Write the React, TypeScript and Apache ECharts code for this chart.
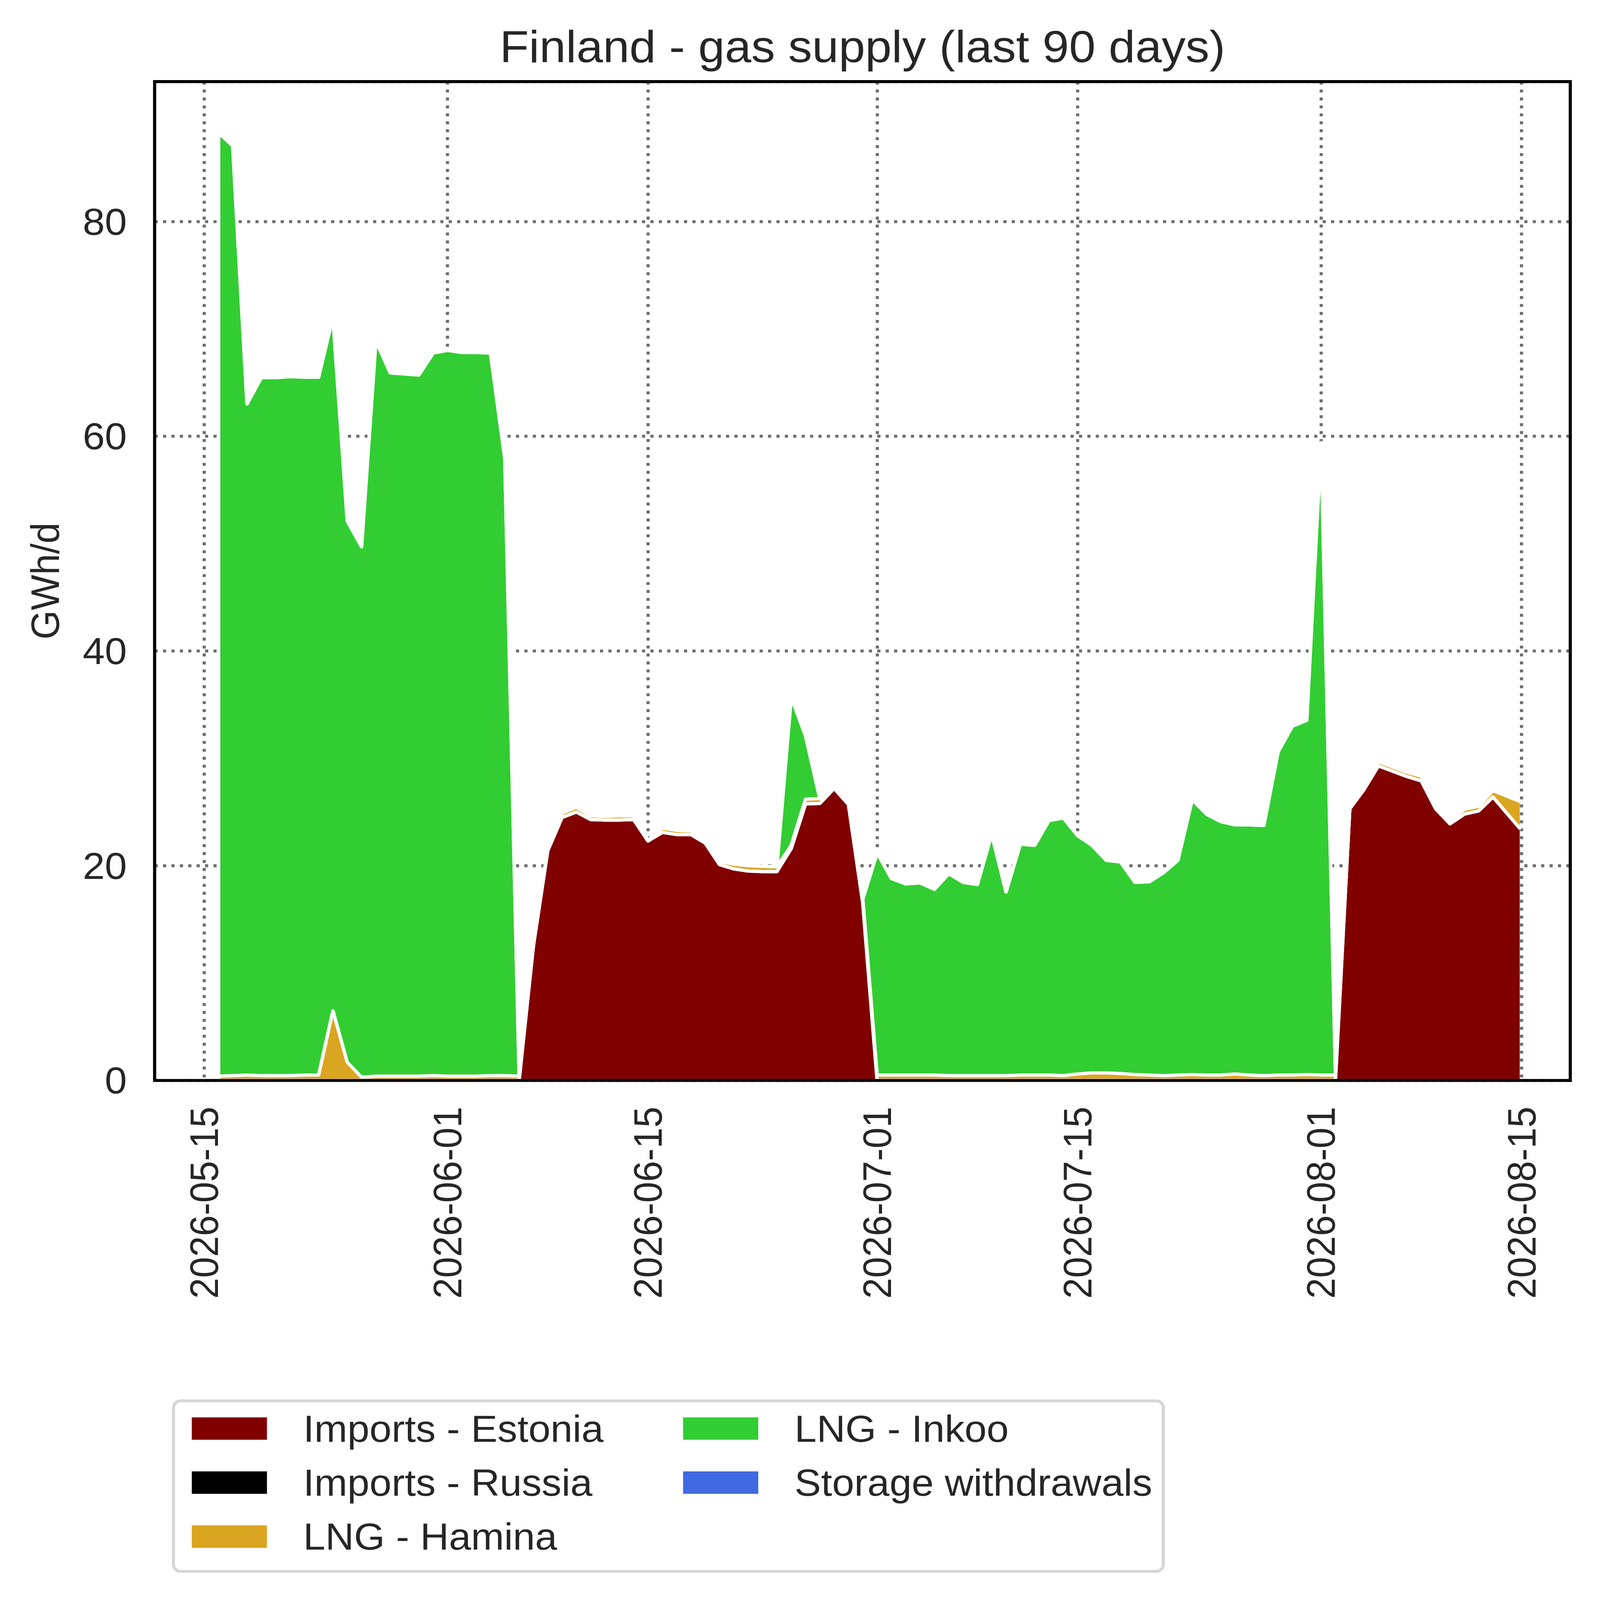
import React, { useEffect, useRef } from "react";
import * as echarts from "echarts";

// ---------- data ----------
const dates: string[] = [
  "2026-05-16T03:20:00Z",
  "2026-05-17", "2026-05-18", "2026-05-19", "2026-05-20", "2026-05-21", "2026-05-22", "2026-05-23",
  "2026-05-24", "2026-05-25", "2026-05-26", "2026-05-27", "2026-05-28", "2026-05-29", "2026-05-30", "2026-05-31",
  "2026-06-01", "2026-06-02", "2026-06-03", "2026-06-04", "2026-06-05", "2026-06-06", "2026-06-07", "2026-06-08",
  "2026-06-09", "2026-06-10", "2026-06-11", "2026-06-12", "2026-06-13", "2026-06-14", "2026-06-15", "2026-06-16",
  "2026-06-17", "2026-06-18", "2026-06-19", "2026-06-20", "2026-06-21", "2026-06-22", "2026-06-23", "2026-06-24",
  "2026-06-25", "2026-06-26", "2026-06-27", "2026-06-28", "2026-06-29", "2026-06-30",
  "2026-07-01", "2026-07-02", "2026-07-03", "2026-07-04", "2026-07-05", "2026-07-06", "2026-07-07", "2026-07-08",
  "2026-07-09", "2026-07-10", "2026-07-11", "2026-07-12", "2026-07-13", "2026-07-14", "2026-07-15", "2026-07-16",
  "2026-07-17", "2026-07-18", "2026-07-19", "2026-07-20", "2026-07-21", "2026-07-22", "2026-07-23", "2026-07-24",
  "2026-07-25", "2026-07-26", "2026-07-27", "2026-07-28", "2026-07-29", "2026-07-30", "2026-07-31",
  "2026-08-01", "2026-08-02", "2026-08-03", "2026-08-04", "2026-08-05", "2026-08-06", "2026-08-07", "2026-08-08",
  "2026-08-09", "2026-08-10", "2026-08-11", "2026-08-12", "2026-08-13",
  "2026-08-14T20:40:00Z",
];

const importsEstonia: number[] = [
  0, 0, 0, 0, 0, 0, 0, 0, 0, 0,
  0, 0, 0, 0, 0, 0, 0, 0, 0, 0,
  0, 0, 12.6, 21.4, 24.5, 25.0, 24.3, 24.25, 24.25, 24.3,
  22.3, 23.1, 22.9, 22.9, 22.1, 20.1, 19.7, 19.5, 19.45, 19.45,
  21.6, 25.75, 25.8, 27.2, 25.7, 16.5, 0, 0, 0, 0,
  0, 0, 0, 0, 0, 0, 0, 0, 0, 0,
  0, 0, 0, 0, 0, 0, 0, 0, 0, 0,
  0, 0, 0, 0, 0, 0, 0, 0, 0, 25.3,
  27.1, 29.3, 28.8, 28.3, 27.9, 25.3, 23.9, 24.8, 25.1, 26.4,
  23.5,
];

const importsRussia: number[] = [
  0, 0, 0, 0, 0, 0, 0, 0, 0, 0,
  0, 0, 0, 0, 0, 0, 0, 0, 0, 0,
  0, 0, 0, 0, 0, 0, 0, 0, 0, 0,
  0, 0, 0, 0, 0, 0, 0, 0, 0, 0,
  0, 0, 0, 0, 0, 0, 0, 0, 0, 0,
  0, 0, 0, 0, 0, 0, 0, 0, 0, 0,
  0, 0, 0, 0, 0, 0, 0, 0, 0, 0,
  0, 0, 0, 0, 0, 0, 0, 0, 0, 0,
  0, 0, 0, 0, 0, 0, 0, 0, 0, 0,
  0,
];

const lngHamina: number[] = [
  0.4, 0.45, 0.5, 0.45, 0.45, 0.45, 0.5, 0.5, 6.5, 1.7,
  0.3, 0.4, 0.4, 0.4, 0.4, 0.45, 0.4, 0.4, 0.4, 0.45,
  0.45, 0.4, 0, 0.1, 0.4, 0.45, 0.35, 0.35, 0.4, 0.35,
  0.05, 0.4, 0.4, 0.35, 0.1, 0.3, 0.45, 0.5, 0.5, 0.45,
  0.3, 0.45, 0.45, 0.15, 0.05, 0.4, 0.5, 0.5, 0.5, 0.5,
  0.5, 0.45, 0.45, 0.45, 0.45, 0.45, 0.5, 0.5, 0.5, 0.45,
  0.6, 0.7, 0.7, 0.65, 0.55, 0.5, 0.45, 0.5, 0.55, 0.5,
  0.5, 0.6, 0.5, 0.45, 0.5, 0.5, 0.55, 0.5, 0.5, 0.05,
  0.1, 0.4, 0.4, 0.4, 0.45, 0.1, 0.3, 0.45, 0.45, 0.6,
  2.5,
];

const lngInkoo: number[] = [
  87.7, 86.6, 62.5, 65.0, 65.0, 65.1, 65.0, 65.0, 64.6, 50.4,
  49.4, 68.5, 65.5, 65.4, 65.3, 67.3, 67.6, 67.4, 67.4, 67.3,
  57.5, 0, 0, 0, 0, 0, 0, 0, 0, 0,
  0, 0, 0, 0, 0, 0, 0, 0, 0, 0,
  13.8, 5.9, 0, 0, 0, 0, 20.7, 18.3, 17.8, 17.9,
  17.3, 18.8, 18.0, 17.8, 22.5, 17.1, 21.5, 21.4, 23.7, 24.0,
  22.2, 21.2, 19.8, 19.7, 17.9, 18.0, 18.9, 20.0, 25.6, 24.3,
  23.6, 23.2, 23.3, 23.3, 30.1, 32.5, 33.0, 58.9, 0.2, 0,
  0, 0, 0, 0, 0, 0, 0, 0, 0, 0,
  0,
];

const storageWithdrawals: number[] = [
  0, 0, 0, 0, 0, 0, 0, 0, 0, 0,
  0, 0, 0, 0, 0, 0, 0, 0, 0, 0,
  0, 0, 0, 0, 0, 0, 0, 0, 0, 0,
  0, 0, 0, 0, 0, 0, 0, 0, 0, 0,
  0, 0, 0, 0, 0, 0, 0, 0, 0, 0,
  0, 0, 0, 0, 0, 0, 0, 0, 0, 0,
  0, 0, 0, 0, 0, 0, 0, 0, 0, 0,
  0, 0, 0, 0, 0, 0, 0, 0, 0, 0,
  0, 0, 0, 0, 0, 0, 0, 0, 0, 0,
  0,
];

const seriesNames: string[] = [
  "Imports - Estonia",
  "Imports - Russia",
  "LNG - Hamina",
  "LNG - Inkoo",
  "Storage withdrawals",
];
const seriesColors: string[] = ["#800000", "#000000", "#daa520", "#32cd32", "#4169e1"];

const xTickLabels: string[] = [
  "2026-05-15", "2026-06-01", "2026-06-15", "2026-07-01", "2026-07-15", "2026-08-01", "2026-08-15",
];
const yTickLabels: number[] = [0, 20, 40, 60, 80];

const titleText = "Finland - gas supply (last 90 days)";
const yAxisTitle = "GWh/d";

// ---------- layout ----------
const W = 5598;
const H = 5922;
const FONT = "'Liberation Sans', Arial, Helvetica, sans-serif";
const TEXT = "#262626";
const GRID = { left: 541, top: 302, width: 4953, height: 3697 };
const DAY = 86400000;

export default function App() {
  const ref = useRef<HTMLDivElement>(null);
  const vw = typeof window !== "undefined" && window.innerWidth ? window.innerWidth : W;
  const vh = typeof window !== "undefined" && window.innerHeight ? window.innerHeight : H;
  const sx = Math.min(1, vw / W);
  const sy = Math.min(1, vh / H);

  useEffect(() => {
    if (!ref.current) return;
    document.body.style.margin = "0";
    document.body.style.overflow = "hidden";
    const chart = echarts.init(ref.current, null, { renderer: "svg", width: W, height: H });

    const values = [importsEstonia, importsRussia, lngHamina, lngInkoo, storageWithdrawals];
    const times = dates.map((d) => Date.parse(d));
    const tickVals = xTickLabels.map((s) => Date.parse(s));
    const origin = tickVals[0];
    const xMin = origin - 3.45 * DAY;
    const xMax = origin + 95.4 * DAY;

    // cumulative (stacked) levels, bottom layer first
    const levels: number[][] = [];
    values.forEach((arr, k) => {
      levels.push(arr.map((v, i) => v + (k > 0 ? levels[k - 1][i] : 0)));
    });

    const dotted = { color: "#6e6e6e", width: 11, type: [11, 18.4] as number[] };

    // areas painted from the top layer down, each filled from the axis
    const areaSeries = [4, 3, 2, 1, 0].map((k) => ({
      name: seriesNames[k],
      type: "line",
      symbol: "none",
      showSymbol: false,
      silent: true,
      data: times.map((t, i) => [t, levels[k][i]]),
      lineStyle: { width: 0, opacity: 0 },
      areaStyle: { color: seriesColors[k], opacity: 1, origin: "start" },
      itemStyle: { color: seriesColors[k], borderWidth: 0 },
      z: 2,
    }));

    const edgeSeries = levels.map((lv, k) => ({
      name: "edge-" + k,
      type: "line",
      symbol: "none",
      showSymbol: false,
      silent: true,
      data: times.map((t, i) => [t, lv[i]]),
      lineStyle: { color: "#ffffff", width: 12, join: "round", cap: "round" },
      itemStyle: { color: "#ffffff" },
      z: 3,
    }));

    const legendCommon = {
      orient: "vertical",
      top: 5218,
      padding: 0,
      itemWidth: 263,
      itemHeight: 83,
      itemGap: 61,
      icon: "rect",
      selectedMode: false,
      itemStyle: { borderWidth: 0 },
      textStyle: {
        fontSize: 139,
        fontFamily: FONT,
        color: TEXT,
        lineHeight: 139,
        padding: [0, 0, 0, 122],
      },
    };

    chart.setOption({
      animation: false,
      backgroundColor: "#ffffff",
      grid: { left: GRID.left, top: GRID.top, width: GRID.width, height: GRID.height },
      xAxis: {
        type: "value",
        min: xMin,
        max: xMax,
        scale: true,
        axisLine: { show: false },
        axisTick: { show: false, customValues: tickVals },
        axisLabel: {
          customValues: tickVals,
          rotate: 90,
          margin: 97,
          fontSize: 139,
          fontFamily: FONT,
          color: TEXT,
          hideOverlap: false,
          formatter: (v: number) => {
            const k = tickVals.indexOf(v);
            return k >= 0 ? xTickLabels[k] : "";
          },
        },
        splitLine: { show: true, lineStyle: dotted },
      },
      yAxis: {
        type: "value",
        min: 0,
        max: 93.03,
        interval: 20,
        axisLine: { show: false },
        axisTick: { show: false },
        axisLabel: {
          margin: 97,
          fontSize: 139,
          fontFamily: FONT,
          color: TEXT,
          formatter: (v: number) => (yTickLabels.includes(v) ? String(v) : ""),
        },
        splitLine: { show: true, lineStyle: dotted },
      },
      legend: [
        {
          ...legendCommon,
          left: 671,
          data: seriesNames.slice(0, 3).map((n, k) => ({ name: n, itemStyle: { color: seriesColors[k] } })),
        },
        {
          ...legendCommon,
          left: 2390,
          data: seriesNames.slice(3).map((n, k) => ({ name: n, itemStyle: { color: seriesColors[k + 3] } })),
        },
      ],
      graphic: {
        elements: [
          {
            type: "rect",
            shape: { x: 607, y: 5185, width: 3463, height: 631, r: 25 },
            style: { fill: "#ffffff", stroke: "#d6d6d6", lineWidth: 11 },
            z: 1,
            silent: true,
          },
          {
            type: "rect",
            shape: { x: GRID.left, y: GRID.top, width: GRID.width, height: GRID.height },
            style: { fill: "none", stroke: "#000000", lineWidth: 11 },
            z: 100,
            silent: true,
          },
          {
            type: "text",
            x: GRID.left + GRID.width / 2,
            y: 173,
            style: {
              text: titleText,
              fontSize: 166.7,
              fontFamily: FONT,
              fill: TEXT,
              align: "center",
              verticalAlign: "middle",
            },
            z: 100,
          },
          {
            type: "text",
            x: 158,
            y: GRID.top + GRID.height / 2,
            rotation: Math.PI / 2,
            style: {
              text: yAxisTitle,
              fontSize: 139,
              fontFamily: FONT,
              fill: TEXT,
              align: "center",
              verticalAlign: "middle",
            },
            z: 100,
          },
        ],
      },
      series: [...areaSeries, ...edgeSeries],
    });

    return () => {
      chart.dispose();
    };
  }, []);

  return (
    <div style={{ position: "fixed", left: 0, top: 0, width: vw, height: vh, overflow: "hidden", background: "#ffffff" }}>
      <div
        ref={ref}
        style={{
          position: "absolute",
          left: 0,
          top: 0,
          width: W,
          height: H,
          transformOrigin: "0 0",
          transform: `scale(${sx}, ${sy})`,
          background: "#ffffff",
        }}
      />
    </div>
  );
}
